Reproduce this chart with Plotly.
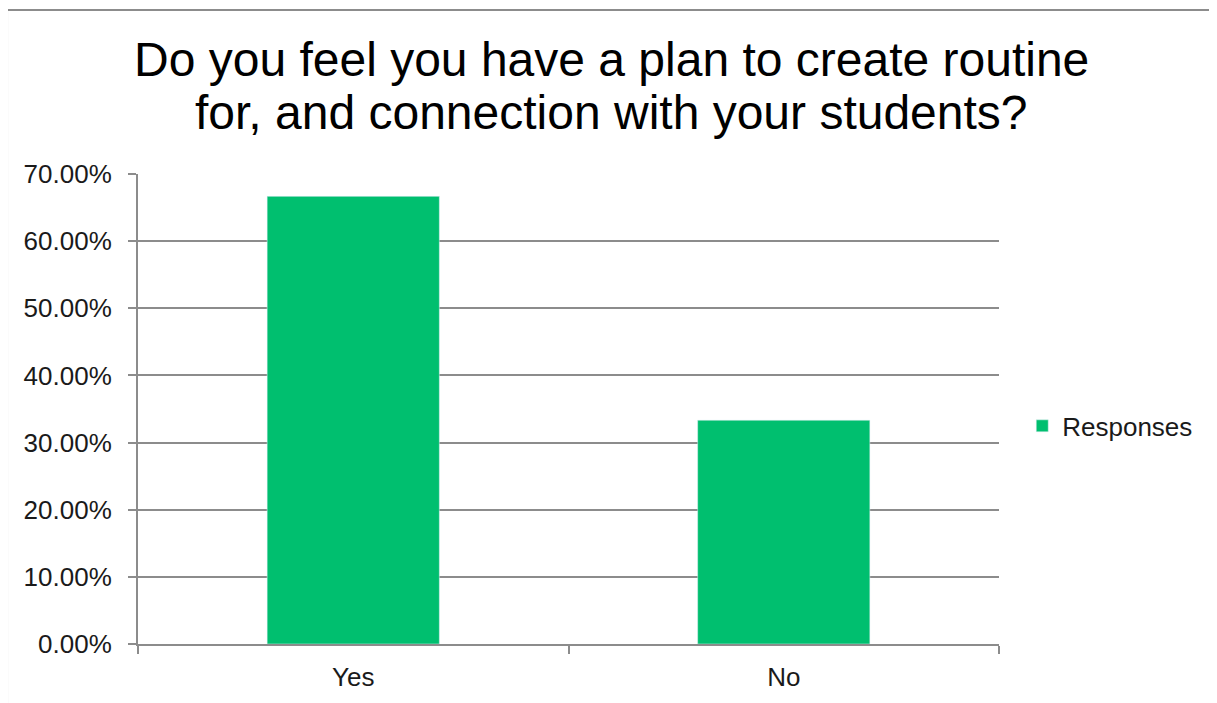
import plotly.graph_objects as go

categories = ["Yes", "No"]
responses = [0.6667, 0.3333]
tick_values = [0, 0.1, 0.2, 0.3, 0.4, 0.5, 0.6, 0.7]
tick_labels = ["0.00%", "10.00%", "20.00%", "30.00%", "40.00%", "50.00%", "60.00%", "70.00%"]
title_lines = [
    "Do you feel you have a plan to create routine",
    "for, and connection with your students?",
]

GREEN = "#00bf6f"
GRID = "#8c8c8c"
FONT = "Liberation Sans, Arial, sans-serif"

fig = go.Figure()
fig.add_trace(
    go.Bar(
        x=categories,
        y=responses,
        name="Responses",
        marker_color=GREEN,
        width=0.4,
        showlegend=True,
    )
)

# two title lines placed separately to get the tighter line spacing
annotations = [
    dict(
        text=title_lines[0],
        xref="paper", yref="paper",
        x=0.5505, y=1.2426,
        xanchor="center", yanchor="middle",
        showarrow=False,
        font=dict(family=FONT, size=48, color="black"),
    ),
    dict(
        text=title_lines[1],
        xref="paper", yref="paper",
        x=0.5505, y=1.1298,
        xanchor="center", yanchor="middle",
        showarrow=False,
        font=dict(family=FONT, size=48, color="black"),
    ),
]

# chart frame: only the left and top edges are inside the picture
border = [
    dict(type="line", xref="paper", yref="paper",
         x0=-0.1521, x1=-0.1521, y0=-0.3, y1=1.349,
         line=dict(color=GRID, width=2)),
    dict(type="line", xref="paper", yref="paper",
         x0=-0.1521, x1=1.4, y0=1.349, y1=1.349,
         line=dict(color=GRID, width=2)),
]

fig.update_layout(
    width=1217,
    height=703,
    paper_bgcolor="white",
    plot_bgcolor="white",
    font=dict(family=FONT, size=26, color="#1a1a1a"),
    margin=dict(l=130, r=226, t=166, b=67),
    annotations=annotations,
    shapes=border,
    legend=dict(
        x=1.027,
        xanchor="left",
        y=0.464,
        yanchor="middle",
        font=dict(size=26),
        itemwidth=30,
    ),
)

fig.update_xaxes(
    type="category",
    showline=True,
    linecolor=GRID,
    linewidth=2,
    ticks="outside",
    tickson="boundaries",
    ticklen=8,
    tickwidth=2,
    tickcolor=GRID,
    showgrid=False,
    tickfont=dict(size=26),
    ticklabelstandoff=9,
)

fig.update_yaxes(
    range=[0, 0.7],
    tickvals=tick_values,
    ticktext=tick_labels,
    showline=True,
    linecolor=GRID,
    linewidth=2,
    ticks="outside",
    ticklen=8,
    tickwidth=2,
    tickcolor=GRID,
    showgrid=True,
    gridcolor=GRID,
    gridwidth=2,
    zeroline=False,
    tickfont=dict(size=26),
    ticklabelstandoff=11,
)

fig.write_html("out.html")
